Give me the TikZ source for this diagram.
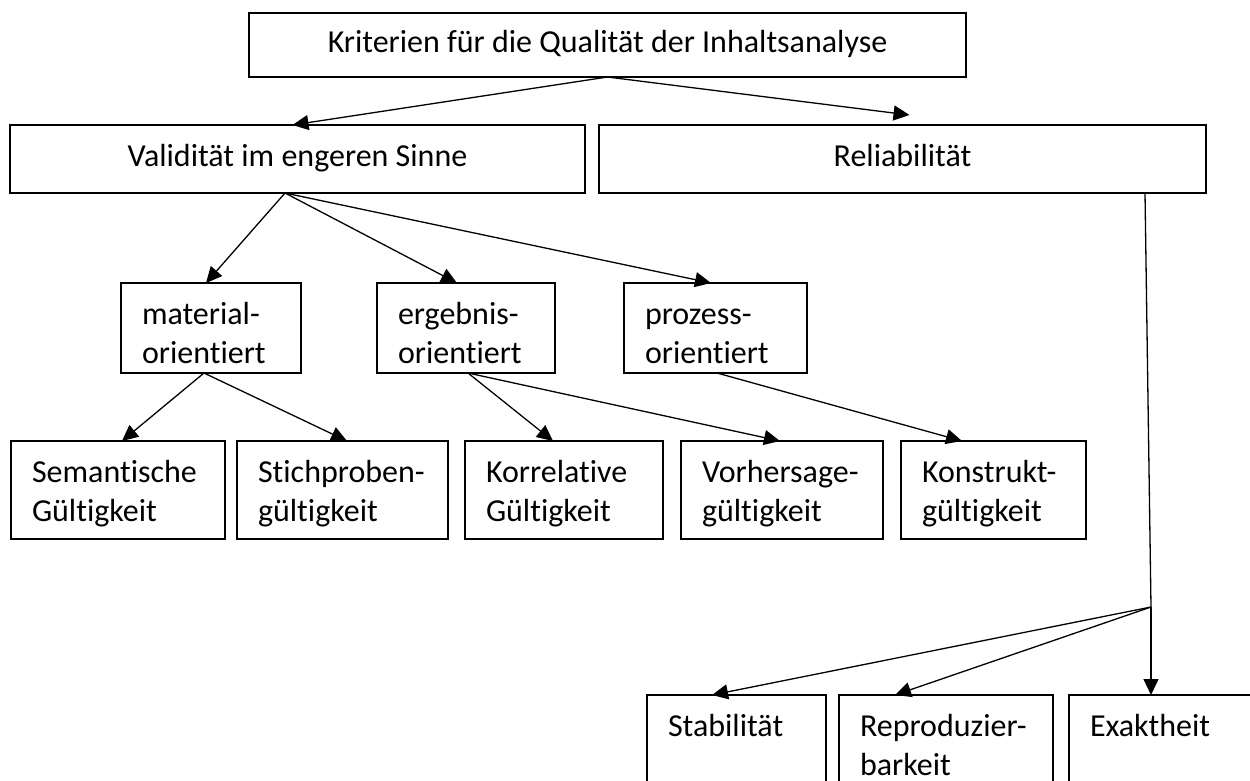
\documentclass[tikz,border=0pt]{standalone}
\usepackage{fontspec}
\setmainfont{Carlito}[Ligatures=NoCommon]
\usetikzlibrary{arrows.meta}

\begin{document}
\begin{tikzpicture}[x=1pt, y=-1pt,
  box/.style={draw, line width=1.6pt, anchor=north west, inner sep=0pt, outer sep=0pt, text height=22pt, text depth=7pt, font=\fontsize{32}{39}\selectfont},
  lbox/.style={box, align=left, inner xsep=21pt, inner ysep=19pt},
  arr/.style={-{Triangle[length=16pt,width=15pt]}, line width=1.3pt}]

\useasboundingbox (0,0) rectangle (1250,780);
\clip (0,0) rectangle (1250,780);

% oberste Ebenen
\node[box, minimum width=717pt, minimum height=64pt] (krit) at (249,13) {Kriterien für die Qualität der Inhaltsanalyse};
\node[box, minimum width=575pt, minimum height=68pt] (valid) at (10,125) {Validität im engeren Sinne};
\node[box, minimum width=607pt, minimum height=68pt] (rel) at (599,125) {Reliabilität};

\node[lbox, text width=138pt, text depth=30pt] (mat) at (121,283) {material-\\orientiert};
\node[lbox, text width=136pt, text depth=30pt] (erg) at (377,283) {ergebnis-\\orientiert};
\node[lbox, text width=141pt, text depth=30pt] (proz) at (624,283) {prozess-\\orientiert};

\node[lbox, text width=172pt, text depth=38pt] (sem) at (11,441) {Semantische\\Gültigkeit};
\node[lbox, text width=169pt, text depth=38pt] (stich) at (237,441) {Stichproben-\\gültigkeit};
\node[lbox, text width=156pt, text depth=38pt] (korr) at (465,441) {Korrelative\\Gültigkeit};
\node[lbox, text width=160pt, text depth=38pt] (vorh) at (681,441) {Vorhersage-\\gültigkeit};
\node[lbox, text width=143pt, text depth=38pt] (konst) at (901,441) {Konstrukt-\\gültigkeit};

\node[lbox, text width=137pt, text depth=80pt] (stab) at (647,695) {Stabilität};
\node[lbox, text width=172pt, text depth=80pt] (repro) at (839,695) {Reproduzier-\\barkeit};
\node[lbox, text width=159pt, text depth=80pt] (exakt) at (1069,695) {Exaktheit};

\draw[arr] (krit.south) -- ([xshift=-5pt]valid.north);
\draw[arr] (krit.south) -- ([xshift=7pt,yshift=10pt]rel.north);

\foreach \n/\d in {mat/-5, erg/-9, proz/-4.5}
  \draw[arr] ([xshift=-12.5pt]valid.south) -- ([xshift=\d pt]\n.north);
\foreach \n/\d in {sem/4, stich/4.5}
  \draw[arr] ([xshift=-7pt]mat.south) -- ([xshift=\d pt]\n.north);
\foreach \n/\d in {korr/-11, vorh/-2}
  \draw[arr] ([xshift=2pt]erg.south) -- ([xshift=\d pt]\n.north);
\draw[arr] ([xshift=1.5pt]proz.south) -- ([xshift=-31.5pt]konst.north);

% Reliabilitaet
\coordinate (fork) at (1151,607);
\draw[line width=1.3pt] ([xshift=-61pt]rel.south east) -- (fork);
\foreach \n/\d in {stab/-24.5, repro/-51}
  \draw[arr] (fork) -- ([xshift=\d pt]\n.north);
\draw[arr] (fork) -- ([xshift=82pt]exakt.north west);

\end{tikzpicture}
\end{document}
